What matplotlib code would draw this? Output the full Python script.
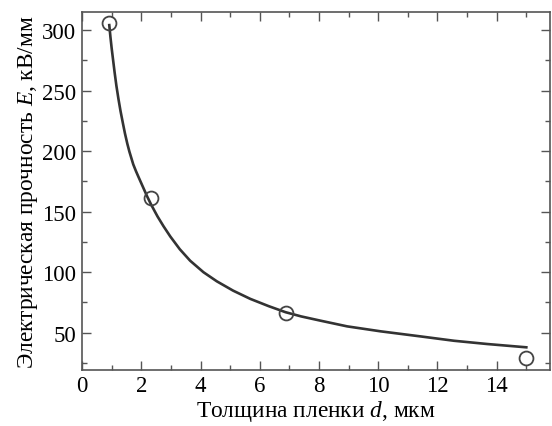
import matplotlib
matplotlib.use("Agg")
import matplotlib.pyplot as plt
from matplotlib.ticker import MultipleLocator

plt.rcParams["font.family"] = ["Liberation Serif", "DejaVu Serif"]
plt.rcParams["mathtext.fontset"] = "custom"
plt.rcParams["mathtext.rm"] = "Liberation Serif"
plt.rcParams["mathtext.it"] = "Liberation Serif:italic"

# measured points
d_pts = [0.91, 2.33, 6.87, 14.98]
e_pts = [305.5, 161, 66.3, 29.1]

# fitted curve
d_fit = [0.92, 0.96, 1.0, 1.05, 1.1, 1.16, 1.23, 1.3, 1.38, 1.45, 1.53, 1.6,
         1.73, 1.82, 1.9, 2.0, 2.1, 2.2, 2.33, 2.45, 2.55, 2.75, 2.98, 3.3,
         3.65, 4.1, 4.55, 5.1, 5.68, 6.3, 6.87, 7.4, 8.05, 8.95, 10.08,
         11.43, 12.56, 13.69, 15.0]
e_fit = [304, 294, 285, 275, 265, 254, 243, 233, 223, 214.5, 206, 199.5,
         189, 183.5, 179, 173.5, 168, 162.5, 156, 150.5, 146, 138, 129.5, 119,
         109.5, 100, 92.5, 84.8, 78, 72, 67, 63.5, 60, 55.3, 51.2,
         47, 43.4, 40.7, 38]

fig = plt.figure(figsize=(5.52, 4.27), dpi=100)
ax = fig.add_axes([0.1486, 0.1318, 0.8478, 0.8371])

ax.plot(d_fit, e_fit, color="#333333", linewidth=1.9, zorder=2,
        solid_joinstyle="round")
ax.plot(d_pts, e_pts, linestyle="", marker="o", markersize=10,
        markerfacecolor="none", markeredgecolor="#444444",
        markeredgewidth=1.3, zorder=3)

ax.set_xlim(0, 15.8)
ax.set_ylim(19.5, 314.6)
ax.xaxis.set_major_locator(MultipleLocator(2))
ax.xaxis.set_minor_locator(MultipleLocator(1))
ax.yaxis.set_major_locator(MultipleLocator(50))
ax.yaxis.set_minor_locator(MultipleLocator(25))
ax.set_yticks([50, 100, 150, 200, 250, 300])

ax.tick_params(which="both", direction="in", top=True, right=True,
               color="#555555", width=1.0, labelsize=16.5, pad=4)
ax.tick_params(which="major", length=6.5)
ax.tick_params(which="minor", length=3.5)
for s in ax.spines.values():
    s.set_color("#555555")
    s.set_linewidth(1.2)

ax.set_xlabel("Толщина пленки $d$, мкм", fontsize=16.8, labelpad=1)
ax.set_ylabel("Электрическая прочность $E$, кВ/мм", fontsize=16.8, labelpad=2)

fig.savefig("out.png", dpi=100)
